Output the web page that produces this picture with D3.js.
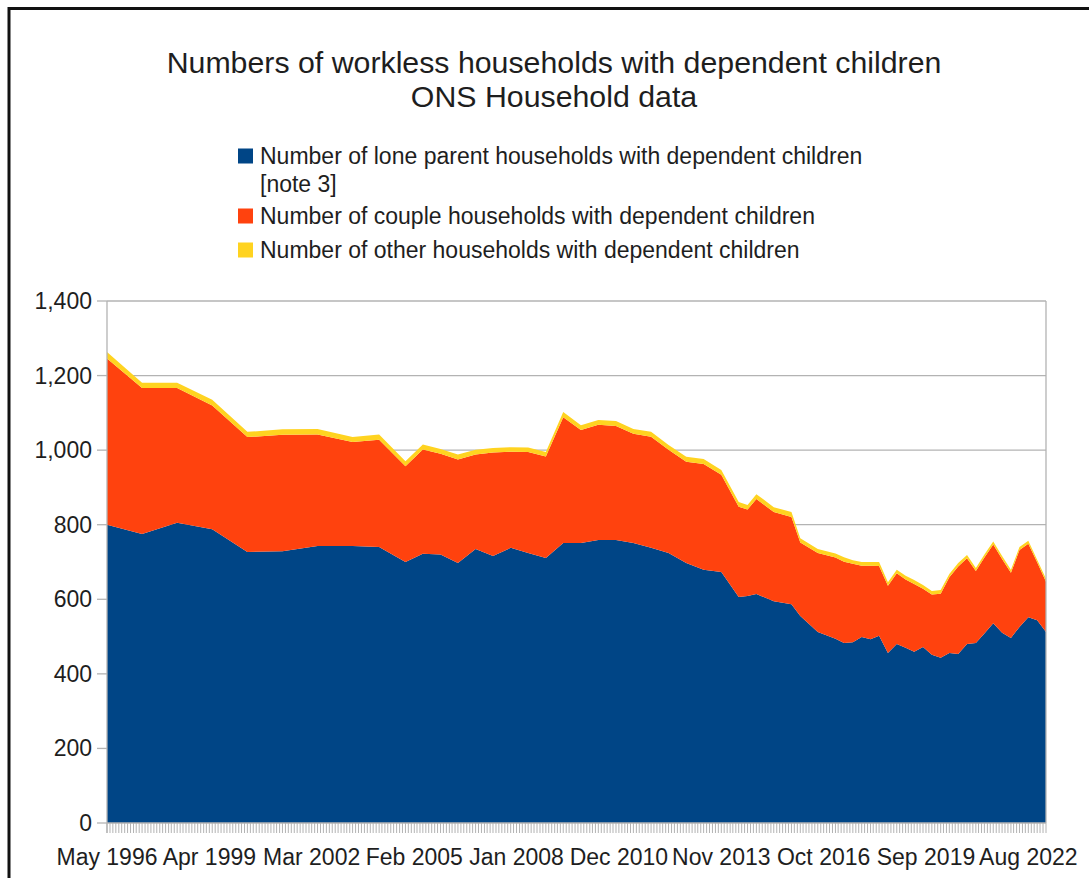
<!DOCTYPE html>
<html>
<head>
<meta charset="utf-8">
<script src="https://cdn.jsdelivr.net/npm/d3@7"></script>
<style>
  html, body { margin: 0; padding: 0; background: #ffffff; }
  svg { display: block; font-family: "Liberation Sans", Arial, sans-serif; }
</style>
</head>
<body>
<svg id="chart" width="1089" height="878"></svg>
<script>
// Survey periods (mid-month of each quarter), thousands of households
const periods = [
  "1996-05","1997-05","1998-05","1999-05","2000-05","2001-05","2002-05","2003-05",
  "2004-02","2004-11","2005-05","2005-11","2006-05","2006-11","2007-05","2007-11",
  "2008-05","2008-11","2009-05","2009-11","2010-05","2010-11","2011-05","2011-11",
  "2012-05","2012-11","2013-05","2013-11","2014-05","2014-08","2014-11","2015-05",
  "2015-11","2016-02","2016-08","2017-02","2017-05","2017-08","2017-11","2018-02",
  "2018-05","2018-08","2018-11","2019-02","2019-05","2019-08","2019-11","2020-02",
  "2020-05","2020-08","2020-11","2021-02","2021-05","2021-08","2021-11","2022-02",
  "2022-05","2022-08","2022-11","2023-02"
];

const loneParent = [
  800, 775, 805, 788, 727, 729, 743, 743,
  740, 700, 722, 720, 697, 735, 716, 738,
  724, 711, 751, 751, 759, 759, 751, 738,
  724, 697, 679, 673, 606, 609, 614, 595,
  587, 555, 512, 494, 483, 485, 499, 493,
  502, 456, 480, 470, 459, 472, 451, 443,
  456, 453, 480, 483, 508, 536, 510, 496,
  526, 552, 544, 512
];

const couple = [
  446, 392, 362, 332, 308, 312, 299, 279,
  288, 257, 280, 270, 278, 253, 278, 258,
  271, 272, 337, 303, 309, 306, 293, 298,
  277, 272, 284, 261, 242, 232, 255, 239,
  234, 197, 212, 218, 218, 210, 191, 197,
  187, 180, 190, 183, 182, 156, 162, 172,
  203, 235, 230, 193, 204, 211, 198, 175,
  206, 197, 155, 135
];

const other = [
  17, 14, 14, 15, 14, 15, 15, 13,
  14, 13, 13, 13, 13, 13, 12, 12,
  12, 12, 14, 13, 13, 13, 13, 13,
  13, 13, 13, 13, 13, 12, 13, 13,
  13, 12, 11, 11, 12, 10, 10, 10,
  11, 10, 9, 10, 11, 10, 9, 10,
  9, 9, 9, 8, 8, 8, 8, 8,
  8, 8, 7, 8
];

const yTicks = [0, 200, 400, 600, 800, 1000, 1200, 1400];

const seriesNames = [
  "Number of lone parent households with dependent children",
  "Number of couple households with dependent children",
  "Number of other households with dependent children"
];
const seriesColors = ["#004586", "#ff420e", "#ffd320"];

(function draw() {
  const parseMonth = d3.timeParse("%Y-%m");
  const rows = periods.map((p, i) => ({
    date: parseMonth(p),
    lone: loneParent[i],
    couple: couple[i],
    other: other[i]
  }));

  const svg = d3.select("#chart");
  const textColor = "#1e1e1e";

  // Outer frame
  svg.append("path")
    .attr("d", "M9,878 L9,8.5 L1089,8.5")
    .attr("fill", "none")
    .attr("stroke", "#111")
    .attr("stroke-width", 3);

  // Plot geometry
  const plotLeft = 107, plotRight = 1046, plotTop = 301, plotBottom = 823;

  const startDate = rows[0].date;
  const endDate = rows[rows.length - 1].date;

  const x = d3.scaleTime().domain([startDate, endDate]).range([plotLeft, plotRight]);
  const y = d3.scaleLinear().domain([0, 1400]).range([plotBottom, plotTop]);

  // Title
  const title = svg.append("g").attr("fill", textColor).attr("text-anchor", "middle").attr("font-size", 30.3);
  title.append("text").attr("x", 554).attr("y", 73).text("Numbers of workless households with dependent children");
  title.append("text").attr("x", 554).attr("y", 107).text("ONS Household data");

  // Legend
  const legend = svg.append("g").attr("font-size", 23).attr("fill", textColor);
  const legendRows = [
    { lines: [seriesNames[0], "[note 3]"], y: 156, color: seriesColors[0] },
    { lines: [seriesNames[1]], y: 216, color: seriesColors[1] },
    { lines: [seriesNames[2]], y: 250, color: seriesColors[2] }
  ];
  legendRows.forEach(r => {
    legend.append("rect")
      .attr("x", 238).attr("y", r.y - 7.5).attr("width", 15).attr("height", 15)
      .attr("fill", r.color);
    r.lines.forEach((t, j) => {
      legend.append("text")
        .attr("x", 260).attr("y", r.y + j * 28)
        .attr("dy", "0.35em")
        .text(t);
    });
  });

  // Horizontal grid
  svg.append("g").selectAll("line").data(yTicks.filter(v => v > 0)).join("line")
    .attr("x1", plotLeft).attr("x2", plotRight)
    .attr("y1", d => y(d)).attr("y2", d => y(d))
    .attr("stroke", "#b3b3b3").attr("stroke-width", 1.3);

  // Stacked areas
  const stack = d3.stack().keys(["lone", "couple", "other"]);
  const layers = stack(rows);

  const area = d3.area()
    .x(d => x(d.data.date))
    .y0(d => y(d[0]))
    .y1(d => y(d[1]))
    .curve(d3.curveLinear);

  svg.append("g").selectAll("path").data(layers).join("path")
    .attr("d", area)
    .attr("fill", (d, i) => seriesColors[i]);

  // Y axis line, right border, ticks and labels
  svg.append("line").attr("x1", plotLeft).attr("x2", plotLeft).attr("y1", plotTop).attr("y2", plotBottom + 10)
    .attr("stroke", "#b3b3b3").attr("stroke-width", 1.3);
  svg.append("line").attr("x1", plotRight).attr("x2", plotRight).attr("y1", plotTop).attr("y2", plotBottom)
    .attr("stroke", "#b3b3b3").attr("stroke-width", 1.3);

  const yAxis = svg.append("g");
  yAxis.selectAll("line").data(yTicks).join("line")
    .attr("x1", plotLeft - 10).attr("x2", plotLeft)
    .attr("y1", d => y(d)).attr("y2", d => y(d))
    .attr("stroke", "#b3b3b3").attr("stroke-width", 1.3);
  yAxis.selectAll("text").data(yTicks).join("text")
    .attr("x", 92).attr("y", d => y(d)).attr("dy", "0.35em")
    .attr("text-anchor", "end").attr("font-size", 23).attr("fill", textColor)
    .text(d3.format(","));

  // X axis: baseline, monthly ticks, labels every 35 months
  svg.append("line").attr("x1", plotLeft).attr("x2", plotRight).attr("y1", plotBottom).attr("y2", plotBottom)
    .attr("stroke", "#b3b3b3").attr("stroke-width", 1.3);

  const months = d3.timeMonth.range(startDate, d3.timeMonth.offset(endDate, 1));
  svg.append("g").selectAll("line").data(months).join("line")
    .attr("x1", d => x(d)).attr("x2", d => x(d))
    .attr("y1", plotBottom).attr("y2", plotBottom + 10)
    .attr("stroke", "#b3b3b3").attr("stroke-width", 1);

  const labelDates = d3.range(0, 10).map(i => d3.timeMonth.offset(startDate, 35 * i));
  const fmt = d3.timeFormat("%b %Y");
  svg.append("g").selectAll("text").data(labelDates).join("text")
    .attr("x", d => x(d)).attr("y", 857).attr("dy", "0.35em")
    .attr("text-anchor", "middle").attr("font-size", 23).attr("fill", textColor)
    .text(d => fmt(d));
})();
</script>
</body>
</html>
